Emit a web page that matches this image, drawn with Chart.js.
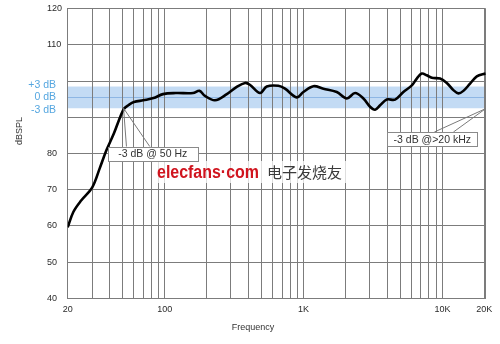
<!DOCTYPE html>
<html>
<head>
<meta charset="utf-8">
<script src="https://cdn.jsdelivr.net/npm/chart.js@4.4.0/dist/chart.umd.min.js"></script>
<style>
  html, body { margin: 0; padding: 0; background: #fff; }
  #wrap { width: 500px; height: 344px; }
</style>
</head>
<body>
<div id="wrap"><canvas id="myChart" width="500" height="344"></canvas></div>
<script>
// frequency response (Hz, dB SPL)
var freqs = [20, 22, 25, 30, 34, 38, 43, 48, 51, 55, 60, 70, 83, 97, 120, 160, 178, 195, 230, 280,
             330, 379, 410, 486, 543, 658, 735, 893, 997, 1177, 1389, 1734, 2047, 2350, 2696, 3013,
             3274, 3557, 3975, 4561, 5236, 6019, 6538, 7100, 7719, 8389, 9625, 10755, 12000,
             13035, 14160, 15820, 17690, 20500];
var spl = [59.6, 63.9, 67.0, 70.6, 75.9, 80.9, 85.5, 90.3, 92.4, 93.4, 94.2, 94.7, 95.3, 96.4, 96.7,
           96.7, 97.3, 95.9, 94.7, 96.4, 98.4, 99.5, 99.0, 96.7, 98.5, 98.7, 97.9, 95.5, 97.0, 98.6,
           97.9, 97.0, 95.2, 96.7, 95.2, 92.9, 92.1, 93.3, 94.9, 94.9, 97.0, 98.8, 100.7, 102.1,
           101.6, 100.9, 100.7, 99.5, 97.5, 96.6, 97.3, 99.3, 101.3, 102.1];

// axes
var xGrid = [20, 30, 40, 50, 60, 70, 80, 90, 100, 200, 300, 400, 500, 600, 700, 800, 900,
             1000, 2000, 3000, 4000, 5000, 6000, 7000, 8000, 9000, 10000, 20000, 20500];
var xTickLabels = { 20: '20', 100: '100', 1000: '1K', 10000: '10K', 20000: '20K' };
var yGrid = [40, 50, 60, 70, 80, 90, 100, 110, 120];
var yHidden = [90, 100];

// +/-3 dB band around the reference level
var bandLevels = [98.5, 95.5, 92.5];
var bandLabels = ['+3 dB', '0 dB', '-3 dB'];

// callouts: leader start (Hz, dB), box centre (Hz, dB), leader ends on box top (Hz)
var callouts = [
    { text: '-3 dB @ 50 Hz', from: [50.5, 92.5], box: [82, 80], legs: [53, 78] },
    { text: '-3 dB @>20 kHz', from: [20500, 92.4], box: [8455, 84], legs: [8750, 12000] }
];

var FONT = "'Liberation Sans', Arial, sans-serif";
var GRID = '#7c7c7c';

var extras = {
    id: 'extras',
    beforeDraw: function(chart) {
        var ctx = chart.ctx, y = chart.scales.y, a = chart.chartArea;
        var top = y.getPixelForValue(bandLevels[0]);
        var bot = y.getPixelForValue(bandLevels[2]);
        ctx.save();
        ctx.fillStyle = '#c3dbf4';
        ctx.fillRect(a.left, top, a.right - a.left, bot - top);
        ctx.strokeStyle = '#8db6e4';
        ctx.lineWidth = 1;
        var mid = Math.round(y.getPixelForValue(bandLevels[1])) + 0.5;
        ctx.beginPath();
        ctx.moveTo(a.left, mid);
        ctx.lineTo(a.right, mid);
        ctx.stroke();
        ctx.restore();
    },
    afterDraw: function(chart) {
        var ctx = chart.ctx, x = chart.scales.x, y = chart.scales.y;
        ctx.save();

        // band labels on the y axis
        ctx.fillStyle = '#56a7e0';
        ctx.font = '10.5px ' + FONT;
        ctx.textAlign = 'right';
        ctx.textBaseline = 'middle';
        for (var i = 0; i < bandLabels.length; i++) {
            var yy = y.getPixelForValue(bandLevels[i]) + (i - 1) * 1.5;
            ctx.fillText(bandLabels[i], 56, yy);
        }

        // axis titles
        ctx.fillStyle = '#333';
        ctx.font = '9px ' + FONT;
        ctx.textAlign = 'center';
        ctx.fillText('Frequency', 253, 327.5);
        ctx.save();
        ctx.translate(20, 131);
        ctx.rotate(-Math.PI / 2);
        ctx.fillText('dBSPL', 0, 0);
        ctx.restore();

        // watermark
        ctx.fillStyle = 'rgba(255,255,255,0.75)';
        ctx.fillRect(155, 161, 192, 22);
        ctx.textAlign = 'left';
        ctx.textBaseline = 'alphabetic';
        ctx.fillStyle = '#d0141e';
        ctx.font = 'bold 18px ' + FONT;
        ctx.fillText('elecfans·com', 157, 177.5, 102);
        ctx.fillStyle = '#3a3a3a';
        ctx.font = "15px 'Noto Sans CJK SC', sans-serif";
        ctx.fillText('电子发烧友', 267, 177.5, 78);

        // callouts
        callouts.forEach(function(c) {
            var fx = x.getPixelForValue(c.from[0]), fy = y.getPixelForValue(c.from[1]);
            var bx = x.getPixelForValue(c.box[0]), by = y.getPixelForValue(c.box[1]);
            ctx.font = '10.5px ' + FONT;
            var w = 90, h = 14;
            var boxTop = by - h / 2;
            ctx.strokeStyle = '#7a7a7a';
            ctx.lineWidth = 1;
            c.legs.forEach(function(f) {
                ctx.beginPath();
                ctx.moveTo(fx, fy);
                ctx.lineTo(x.getPixelForValue(f), boxTop);
                ctx.stroke();
            });
            ctx.fillStyle = '#fff';
            ctx.fillRect(Math.round(bx - w / 2) + 0.5, Math.round(boxTop) + 0.5, w, h);
            ctx.strokeStyle = '#8a8a8a';
            ctx.strokeRect(Math.round(bx - w / 2) + 0.5, Math.round(boxTop) + 0.5, w, h);
            ctx.fillStyle = '#333';
            ctx.textAlign = 'center';
            ctx.textBaseline = 'middle';
            ctx.fillText(c.text, bx, by + 1);
        });
        ctx.restore();
    }
};

var points = freqs.map(function(f, i) { return { x: f, y: spl[i] }; });

var canvas = document.getElementById('myChart').getContext('2d');
var myChart = new Chart(canvas, {
    type: 'line',
    data: {
        datasets: [{
            label: 'Response',
            data: points,
            borderColor: '#000',
            borderWidth: 2.6,
            tension: 0.35,
            pointRadius: 0,
            fill: false
        }]
    },
    options: {
        responsive: false,
        animation: false,
        layout: { padding: { left: 47, right: 14.3, top: 8.7, bottom: 0 } },
        plugins: { legend: { display: false }, tooltip: { enabled: false } },
        scales: {
            x: {
                type: 'logarithmic',
                min: 20,
                max: 20500,
                afterBuildTicks: function(s) { s.ticks = xGrid.map(function(v) { return { value: v }; }); },
                afterFit: function(s) { s.height = 45.7; },
                grid: { color: GRID, lineWidth: 1, drawTicks: false },
                border: { color: GRID },
                ticks: {
                    autoSkip: false,
                    maxRotation: 0,
                    padding: 6,
                    color: '#2a2a2a',
                    font: { family: FONT, size: 9 },
                    callback: function(v) { return xTickLabels[v] || ''; }
                }
            },
            y: {
                type: 'linear',
                min: 40,
                max: 120,
                afterBuildTicks: function(s) { s.ticks = yGrid.map(function(v) { return { value: v }; }); },
                afterFit: function(s) { s.width = 20.7; },
                grid: { color: GRID, lineWidth: 1, drawTicks: false },
                border: { color: GRID },
                ticks: {
                    crossAlign: 'far',
                    color: '#2a2a2a',
                    font: { family: FONT, size: 9 },
                    callback: function(v) { return yHidden.indexOf(v) >= 0 ? '' : String(v); }
                }
            }
        }
    },
    plugins: [extras]
});
</script>
</body>
</html>
